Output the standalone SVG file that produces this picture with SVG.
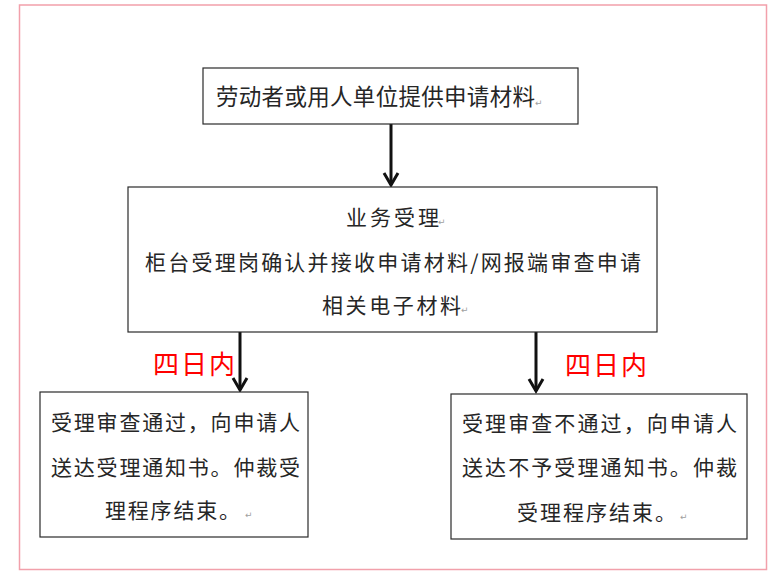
<svg xmlns="http://www.w3.org/2000/svg" width="770" height="578" viewBox="0 0 770 578">
  <defs>
    <style>
      .frame { fill: #ffffff; stroke: #f2a0ab; stroke-width: 1.5; }
      .box { fill: #ffffff; stroke: #2a2a2a; stroke-width: 1.2; }
      .txt { font-family: "Noto Sans CJK SC", "Noto Sans", sans-serif; fill: #262626; }
      .t22 { font-size: 22.5px; }
      .t21 { font-size: 21px; }
      .mark { font-family: "DejaVu Sans", sans-serif; font-size: 9px; fill: #a0a0a0; }
      .red { font-family: "Noto Sans CJK SC", "Noto Sans", sans-serif; font-size: 26px; fill: #ff0000; }
      .conn { fill: none; stroke: #111111; stroke-width: 3; }
    </style>
    <marker id="arr" viewBox="-16 -10 20 20" refX="0" refY="0" markerWidth="20" markerHeight="20" markerUnits="userSpaceOnUse" orient="auto" overflow="visible">
      <path d="M-12,-7 L0,0 L-12,7" fill="none" stroke="#111111" stroke-width="3" stroke-linejoin="miter"/>
    </marker>
  </defs>

  <rect x="0" y="0" width="770" height="578" fill="#ffffff"/>
  <rect class="frame" x="19.5" y="5" width="747" height="564.5"/>

  <g id="connectors">
    <line class="conn" x1="391" y1="124" x2="391" y2="185" marker-end="url(#arr)"/>
    <line class="conn" x1="240" y1="332" x2="240" y2="390" marker-end="url(#arr)"/>
    <line class="conn" x1="536" y1="332" x2="536" y2="391" marker-end="url(#arr)"/>
  </g>

  <g id="node-submit">
    <rect class="box" x="203" y="68" width="375" height="56"/>
    <text class="txt t22" x="216" y="105" textLength="319" lengthAdjust="spacing">劳动者或用人单位提供申请材料</text>
    <text class="mark" x="535" y="106">↵</text>
  </g>

  <g id="node-accept">
    <rect class="box" x="128" y="187" width="529" height="145"/>
    <text class="txt t21" x="346" y="225" textLength="93" lengthAdjust="spacing">业务受理</text>
    <text class="mark" x="438" y="225">↵</text>
    <text class="txt t21" x="145" y="270" textLength="496" lengthAdjust="spacing">柜台受理岗确认并接收申请材料/网报端审查申请</text>
    <text class="txt t21" x="322" y="313" textLength="139" lengthAdjust="spacing">相关电子材料</text>
    <text class="mark" x="461" y="313">↵</text>
  </g>

  <g id="label-left">
    <text class="red" x="153" y="374" textLength="82" lengthAdjust="spacing">四日内</text>
  </g>
  <g id="label-right">
    <text class="red" x="565" y="374.5" textLength="82" lengthAdjust="spacing">四日内</text>
  </g>

  <g id="node-pass">
    <rect class="box" x="40" y="392" width="268" height="145"/>
    <text class="txt t21" x="51" y="430" textLength="249" lengthAdjust="spacing">受理审查通过，向申请人</text>
    <text class="txt t21" x="51" y="475" textLength="249" lengthAdjust="spacing">送达受理通知书。仲裁受</text>
    <text class="txt t21" x="105" y="518" textLength="135" lengthAdjust="spacing">理程序结束。</text>
    <text class="mark" x="245" y="518">↵</text>
  </g>

  <g id="node-reject">
    <rect class="box" x="451" y="394" width="296" height="145"/>
    <text class="txt t21" x="462" y="431" textLength="275" lengthAdjust="spacing">受理审查不通过，向申请人</text>
    <text class="txt t21" x="462" y="475" textLength="275" lengthAdjust="spacing">送达不予受理通知书。仲裁</text>
    <text class="txt t21" x="517" y="520" textLength="159" lengthAdjust="spacing">受理程序结束。</text>
    <text class="mark" x="680" y="520">↵</text>
  </g>
</svg>
